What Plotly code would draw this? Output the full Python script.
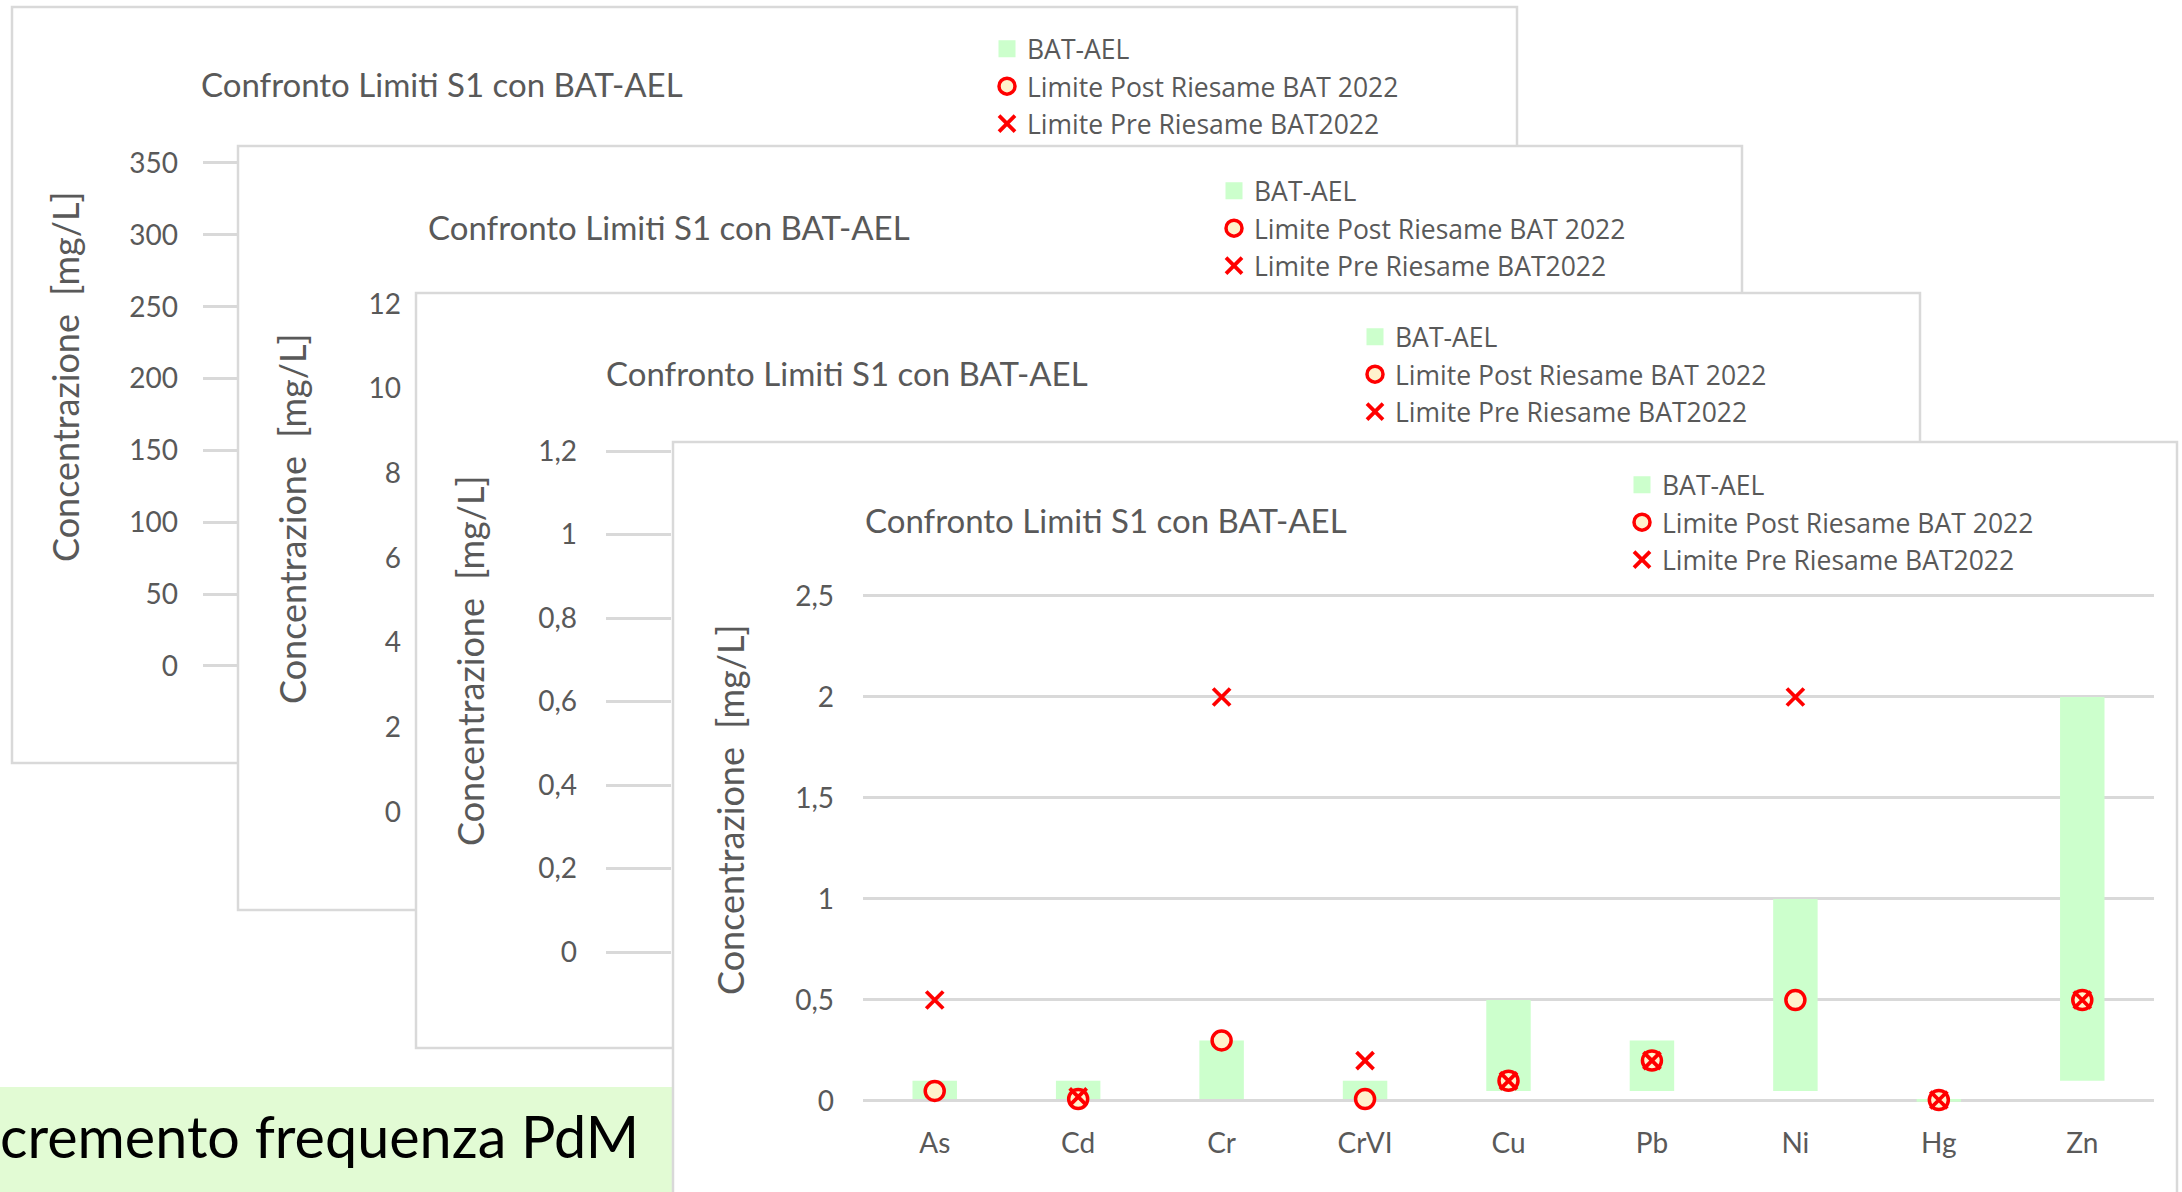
import plotly.graph_objects as go

W, H = 2182, 1192

# ---------------- data (front panel) ----------------
categories = ["As", "Cd", "Cr", "CrVI", "Cu", "Pb", "Ni", "Hg", "Zn"]
bat_ael_low = [0.01, 0.01, 0.01, 0.01, 0.05, 0.05, 0.05, 0.001, 0.1]
bat_ael_high = [0.1, 0.1, 0.3, 0.1, 0.5, 0.3, 1.0, 0.01, 2.0]
limite_post = [0.05, 0.01, 0.3, 0.01, 0.1, 0.2, 0.5, 0.005, 0.5]
limite_pre = [0.5, 0.02, 2.0, 0.2, 0.1, 0.2, 2.0, 0.005, 0.5]

series_names = ["BAT-AEL", "Limite Post Riesame BAT 2022", "Limite Pre Riesame BAT2022"]
chart_title = "Confronto Limiti S1 con BAT-AEL"
y_title = "Concentrazione  [mg/L]"
banner_text = "cremento frequenza PdM"

# tick labels of the four stacked panels (back to front)
p1_tickvals = [0, 50, 100, 150, 200, 250, 300, 350]
p1_ticktext = ["0", "50", "100", "150", "200", "250", "300", "350"]
p2_tickvals = [0, 2, 4, 6, 8, 10, 12]
p2_ticktext = ["0", "2", "4", "6", "8", "10", "12"]
p3_tickvals = [0, 0.2, 0.4, 0.6, 0.8, 1.0, 1.2]
p3_ticktext = ["0", "0,2", "0,4", "0,6", "0,8", "1", "1,2"]
p4_tickvals = [0, 0.5, 1.0, 1.5, 2.0, 2.5]
p4_ticktext = ["0", "0,5", "1", "1,5", "2", "2,5"]

# ---------------- styling ----------------
GRID = "#d9d9d9"
TXT = "#595959"
BAR_COL = "#ccffcc"
RED = "#ff0000"
CIRCLE_FILL = "#fff2cc"
FONT = "Lato"
LEG_FONT = "Open Sans"


def xp(px):
    return px / W


def yp(py):
    return 1 - py / H


def ydom(v0, px0, v1, px1, lo, hi):
    s = (px1 - px0) / (v1 - v0)
    return [yp(px0 + (lo - v0) * s), yp(px0 + (hi - v0) * s)]


circle_marker = dict(symbol="circle", size=19, color=CIRCLE_FILL, line=dict(color=RED, width=3.5))
x_marker = dict(symbol="x-thin", size=17, color=RED, line=dict(color=RED, width=3.8))
legend_bar_marker = dict(color=BAR_COL, line=dict(color=BAR_COL, width=5))

fig = go.Figure()

# ---------------- front panel traces ----------------
fig.add_trace(go.Bar(
    x=categories,
    y=[h - l for h, l in zip(bat_ael_high, bat_ael_low)],
    base=bat_ael_low,
    name=series_names[0], legendgroup="bat", showlegend=False,
    marker=dict(color=BAR_COL, line=dict(width=0)),
    width=0.31,
    xaxis="x", yaxis="y", legend="legend",
))
# legend swatch for the bar series (larger square like the original)
fig.add_trace(go.Bar(x=[None], y=[None], name=series_names[0], legendgroup="bat",
                     marker=legend_bar_marker, xaxis="x", yaxis="y", legend="legend"))
fig.add_trace(go.Scatter(
    x=categories, y=limite_post, mode="markers", name=series_names[1],
    marker=circle_marker, cliponaxis=False, xaxis="x", yaxis="y", legend="legend",
))
fig.add_trace(go.Scatter(
    x=categories, y=limite_pre, mode="markers", name=series_names[2],
    marker=x_marker, cliponaxis=False, xaxis="x", yaxis="y", legend="legend",
))

# ---------------- back panels: legend entries only (content hidden) ----------------
for ax, lg in [("2", "legend2"), ("3", "legend3"), ("4", "legend4")]:
    fig.add_trace(go.Bar(x=[None], y=[None], name=series_names[0],
                         marker=legend_bar_marker, xaxis="x" + ax, yaxis="y" + ax, legend=lg))
    fig.add_trace(go.Scatter(x=[None], y=[None], mode="markers", name=series_names[1],
                             marker=circle_marker, xaxis="x" + ax, yaxis="y" + ax, legend=lg))
    fig.add_trace(go.Scatter(x=[None], y=[None], mode="markers", name=series_names[2],
                             marker=x_marker, xaxis="x" + ax, yaxis="y" + ax, legend=lg))

tickfont = dict(family=FONT, size=28, color=TXT)

# ---------------- panel rectangles ----------------
panels = [  # (left, top, right, bottom) in px
    (12, 7, 1517, 763),
    (238, 146, 1742, 910),
    (416, 293, 1920, 1048),
    (673, 442, 2177, 1210),
]
shapes = []
for (l, t, r, b) in panels[:3]:
    shapes.append(dict(type="rect", xref="paper", yref="paper", x0=xp(l), x1=xp(r), y0=yp(b), y1=yp(t),
                       fillcolor="white", line=dict(color=GRID, width=2.5), layer="below"))
shapes.append(dict(type="rect", xref="paper", yref="paper", x0=xp(-5), x1=xp(673), y0=yp(1210), y1=yp(1087),
                   fillcolor="#e2fbd4", line=dict(width=0), layer="below"))
l, t, r, b = panels[3]
shapes.append(dict(type="rect", xref="paper", yref="paper", x0=xp(l), x1=xp(r), y0=yp(b), y1=yp(t),
                   fillcolor="white", line=dict(color=GRID, width=2.5), layer="below"))

# ---------------- annotations ----------------
annotations = []
title_pos = [(199, 84), (426, 227), (604, 373), (863, 520)]
for (x, y) in title_pos:
    annotations.append(dict(text=chart_title, xref="paper", yref="paper", x=xp(x), y=yp(y),
                            xanchor="left", yanchor="middle", showarrow=False,
                            font=dict(family=FONT, size=33, color=TXT)))
ytitle_pos = [(65, 377), (292, 519), (470, 661), (730, 810)]
for (x, y) in ytitle_pos:
    annotations.append(dict(text=y_title, xref="paper", yref="paper", x=xp(x), y=yp(y),
                            xanchor="center", yanchor="middle", showarrow=False, textangle=-90,
                            font=dict(family=FONT, size=36, color=TXT)))
annotations.append(dict(text=banner_text, xref="paper", yref="paper", x=xp(641), y=yp(1135),
                        xanchor="right", yanchor="middle", showarrow=False,
                        font=dict(family=FONT, size=57.5, color="black")))

legend_style = dict(font=dict(family=LEG_FONT, size=26.5, color=TXT), bgcolor="rgba(0,0,0,0)",
                    xanchor="left", yanchor="top", borderwidth=0, itemclick=False,
                    traceorder="normal")

fig.update_layout(
    width=W, height=H,
    margin=dict(l=0, r=0, t=0, b=0, pad=0, autoexpand=False),
    paper_bgcolor="white", plot_bgcolor="rgba(0,0,0,0)",
    barmode="overlay",
    shapes=shapes,
    annotations=annotations,
    showlegend=True,
    legend=dict(x=xp(1622), y=yp(461), **legend_style),
    legend2=dict(x=xp(987), y=yp(25), **legend_style),
    legend3=dict(x=xp(1214), y=yp(167), **legend_style),
    legend4=dict(x=xp(1355), y=yp(313), **legend_style),
    # front panel
    xaxis=dict(domain=[xp(863), xp(2154)], anchor="y", type="category",
               categoryorder="array", categoryarray=categories, range=[-0.5, 8.5],
               showgrid=False, zeroline=False, showline=False, ticks="",
               tickfont=tickfont, ticklabelstandoff=22),
    yaxis=dict(domain=ydom(0, 1101, 2.5, 596, -0.006, 2.506), anchor="x", range=[-0.006, 2.506],
               tickvals=p4_tickvals, ticktext=p4_ticktext, showgrid=True, gridcolor=GRID, gridwidth=2.5,
               zeroline=False, showline=False, ticks="", tickfont=tickfont, ticklabelstandoff=28),
    # panel 1 (back)
    xaxis2=dict(domain=[xp(203), xp(237)], anchor="y2", range=[0, 1], visible=False),
    yaxis2=dict(domain=ydom(0, 666, 350, 163, -2, 352), anchor="x2", range=[-2, 352],
                tickvals=p1_tickvals, ticktext=p1_ticktext, showgrid=True, gridcolor=GRID, gridwidth=2.5,
                zeroline=False, showline=False, ticks="", tickfont=tickfont, ticklabelstandoff=24),
    # panel 2
    xaxis3=dict(domain=[xp(430), xp(436)], anchor="y3", range=[0, 1], visible=False),
    yaxis3=dict(domain=ydom(0, 812, 12, 304, 0, 12), anchor="x3", range=[0, 12],
                tickvals=p2_tickvals, ticktext=p2_ticktext, showgrid=False,
                zeroline=False, showline=False, ticks="", tickfont=tickfont, ticklabelstandoff=28),
    # panel 3
    xaxis4=dict(domain=[xp(606), xp(671)], anchor="y4", range=[0, 1], visible=False),
    yaxis4=dict(domain=ydom(0, 952, 1.2, 451, -0.005, 1.205), anchor="x4", range=[-0.005, 1.205],
                tickvals=p3_tickvals, ticktext=p3_ticktext, showgrid=True, gridcolor=GRID, gridwidth=2.5,
                zeroline=False, showline=False, ticks="", tickfont=tickfont, ticklabelstandoff=28),
)

fig.write_html("out.html", config={"displayModeBar": False},
               post_script="document.body.style.margin='0px';")
